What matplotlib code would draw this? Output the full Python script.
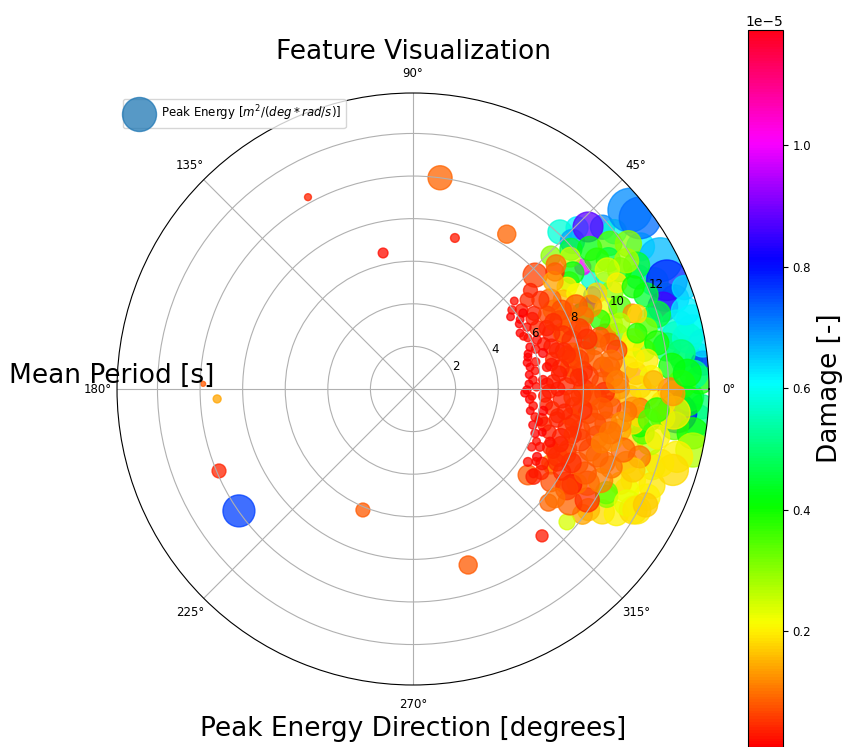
import numpy as np
import matplotlib.pyplot as plt
import matplotlib as mpl

# peak energy direction [deg]
direction = [
    # outliers
    82.7, 74.5, 102.4, 118.7, 178.6, 182.9, 202.9, 215.0,
    247.5, 287.4, 311.3, 58.8,
    # blue / cyan / purple
    44.5, 40.5, 38.0, 32.0, 24.0, 20.0, 11.5, 12.0,
    6.5, 19.0, 26.5, -3.5,
    46.9, 42.8, 39.5, 37.0, 27.6, 23.2, 18.2, 13.2,
    13.8, 6.0, 5.1, 9.0, 9.4, 16.2, -6.2, -5.2,
    -1.7, 1.8, 10.5, 3.0, 16.0, 20.5, 29.5, 31.6,
    27.6, 25.9, 42.8, 35.7, 14.6,
    # green / yellow
    44.0, 41.5, 38.5, 36.5, 33.5, 34.0, 29.0, 30.0,
    26.0, 22.0, 22.5, 34.5, 17.0, 14.5, 7.5, 5.0,
    1.0, -2.5, -8.0, -9.0, 18.0, 15.0, 11.0, 9.5,
    4.0, 3.0, -2.0, -1.5, -6.5, -13.0, -19.0, -18.0,
    -22.0, -33.0, -34.5, -31.5, -36.5, 16.0,
    40.0, 35.0, 36.0, 31.0, 31.5, 27.6, 27.5, 24.9,
    21.6, 19.0, 18.5, 33.5, 30.7, 24.0, 26.3, 12.6,
    17.7, 14.0, 10.7, 7.0, 5.9, 0.5, -0.2, -5.2,
    -3.2, -12.3, -14.4, -17.3, -16.7, -12.8, -16.7, -10.8,
    -9.5, -7.0, -8.8, -4.8, -4.9, -22.5, -24.8, -28.8,
    -25.3, -24.4, -29.0, -20.2, 2.0, -28.2, -28.0, -28.4,
    -26.5, -40.8, -1.0, 8.0, 3.3, -4.7, -7.5, -2.3,
    -11.2, -11.1, 20.5, 12.7, 8.0, 29.4, 30.3, 20.3,
    # orange
    43.0, 39.5, 33.0, 19.0, 15.5, 13.1, 10.8, 6.6,
    6.4, 3.4, 1.8, -6.0, -5.2, -14.6, -13.8, -16.2,
    -24.3, -31.4, -36.0, -32.5, -28.4, -30.0, -28.4, -36.8,
    -31.0, -29.5, 25.0, 22.0, 17.0, 12.0, 9.0, 4.0,
    0.0, -3.0, -8.0, -10.0, -19.0, -21.0, -9.0, 0.0,
    -1.0, -23.0, -34.0, -40.0,
    25.0, 37.5, 41.0, -14.5, -21.5, -26.0, 27.0, 23.0,
    20.0, 14.0, 8.0, 2.0, -2.0, -6.0, -11.0, -12.5,
    -17.0, -20.0, -26.0, -33.0, -37.5, 6.0, 11.0, -7.0,
    -14.0, -25.0, -16.0,
    # red, medium
    38.0, 32.0, 26.0, 22.0, 17.0, 12.0, 8.0, 3.0,
    -1.0, -4.0, -8.0, -12.0, -15.0, -18.0, -23.0, -27.0,
    -33.0, -36.0, 35.0, 29.0, 20.0, 14.0, 5.0, 1.0,
    -6.0, -10.0, -16.0, -21.0, -25.0, -29.0, 10.0, -2.0,
    28.0, 16.0,
    40.0, 36.0, 30.5, 24.5, 19.0, 15.0, 10.0, 6.0,
    0.0, -3.0, -6.5, -10.5, -13.5, -17.5, -20.5, -24.0,
    -30.0, -3.0, 4.0, 12.5, 25.5, -12.0, -8.5, 2.0,
    # red, small dots on the inner edge
    38.6, 34.6, 27.6, 28.5, 19.7, 15.5, 10.6, 4.3,
    -0.5, 4.0, 21.6, 15.5, 9.3, -2.0, -12.9, -16.7,
    -24.5, -32.4, -28.7, -21.2, 41.0, 36.5, 24.0, 31.5,
    7.0, 1.0, -5.0, -8.0, -20.0, -9.5, -26.0, 12.5,
    18.0,
    33.0, 25.5, 17.0, 13.0, 8.5, 2.5, -3.5, -10.5,
    -14.5, -18.5, -23.0, -30.5, -35.0,
]

# mean period [s]
period = [
    10.0, 7.36, 6.54, 10.27, 9.86, 9.21, 9.89, 9.98,
    6.15, 8.66, 9.18, 8.5,
    10.8, 11.7, 12.0, 12.6, 12.4, 12.6, 12.6, 13.4,
    13.5, 13.0, 11.8, 13.6,
    10.1, 10.2, 13.2, 13.35, 13.1, 12.97, 12.35, 12.73,
    13.5, 12.93, 13.67, 13.78, 12.08, 11.6, 13.4, 12.45,
    13.0, 13.48, 13.1, 13.2, 13.3, 13.6, 10.3, 9.76,
    9.5, 9.24, 11.2, 9.82, 8.6,
    9.0, 9.9, 10.6, 11.5, 11.0, 12.2, 12.0, 11.2,
    10.4, 11.8, 9.8, 8.9, 12.0, 11.3, 12.7, 12.2,
    12.6, 12.9, 12.4, 13.3, 9.8, 9.9, 10.4, 11.0,
    10.5, 11.2, 10.2, 11.0, 11.8, 10.6, 10.6, 11.8,
    12.1, 10.6, 10.0, 11.2, 9.9, 9.4,
    9.63, 10.55, 9.28, 11.7, 10.7, 9.74, 10.8, 11.4,
    10.45, 10.9, 11.1, 8.67, 8.2, 8.74, 8.06, 10.6,
    10.2, 10.84, 11.65, 11.07, 10.1, 10.66, 12.07, 12.3,
    11.76, 13.45, 12.8, 12.78, 12.1, 11.4, 11.1, 11.0,
    10.8, 10.7, 10.45, 10.7, 11.5, 11.2, 12.1, 11.8,
    11.1, 10.7, 10.4, 11.0, 11.3, 10.3, 11.4, 11.95,
    12.2, 9.55, 12.2, 10.5, 12.9, 10.36, 11.2, 9.26,
    9.9, 11.7, 7.52, 7.7, 7.44, 7.55, 8.9, 9.36,
    7.84, 8.64, 7.67, 8.45, 9.1, 9.5, 9.75, 8.98,
    9.3, 9.4, 8.92, 10.1, 9.28, 8.93, 8.07, 10.27,
    8.45, 8.47, 9.1, 9.7, 9.3, 8.9, 7.3, 6.74,
    8.7, 7.44, 7.6, 8.0, 7.8, 8.2, 8.6, 8.2,
    8.0, 8.6, 8.3, 9.2, 8.8, 9.6, 9.9, 9.7,
    9.0, 7.8, 7.8, 8.3,
    9.2, 8.3, 8.9, 9.6, 10.0, 9.8, 8.6, 8.7,
    8.3, 8.8, 9.4, 9.6, 8.3, 8.9, 8.7, 9.5,
    8.2, 9.2, 9.0, 8.6, 8.4, 8.0, 7.6, 8.0,
    7.5, 7.5, 9.2,
    6.8, 6.7, 6.5, 7.0, 6.8, 6.7, 7.0, 6.6,
    6.4, 7.0, 6.6, 6.9, 6.4, 7.3, 7.0, 7.6,
    7.2, 7.0, 7.3, 7.2, 7.5, 7.3, 7.5, 7.2,
    7.6, 7.5, 7.8, 7.8, 8.2, 8.0, 7.9, 7.9,
    7.9, 8.5,
    7.2, 6.3, 6.5, 6.9, 6.5, 7.0, 6.6, 6.9,
    6.8, 6.2, 6.3, 6.9, 6.2, 6.7, 7.4, 7.2,
    7.0, 7.5, 7.8, 7.4, 7.3, 7.7, 7.2, 6.3,
    5.95, 6.28, 5.67, 6.09, 5.84, 5.6, 5.59, 5.65,
    5.35, 6.12, 6.26, 6.33, 6.37, 5.26, 5.88, 5.88,
    6.55, 6.39, 6.64, 6.9, 6.3, 5.7, 5.9, 5.85,
    5.5, 5.8, 5.5, 5.7, 6.1, 6.2, 6.2, 5.9,
    6.05,
    6.0, 5.75, 5.65, 5.5, 5.8, 5.45, 5.6, 5.6,
    6.1, 6.4, 6.3, 6.7, 6.9,
]

# peak energy (marker size)
energy = [
    3.0, 0.4, 0.5, 0.25, 0.13, 0.33, 1.0, 5.3,
    1.0, 1.7, 0.75, 1.7,
    2.5, 3.0, 3.0, 4.0, 4.0, 4.0, 4.0, 4.5,
    3.5, 4.0, 3.0, 3.0,
    3.0, 3.0, 10.0, 9.0, 10.0, 8.5, 4.5, 6.0,
    5.0, 5.0, 3.0, 4.0, 4.0, 3.0, 5.0, 8.0,
    4.0, 4.0, 4.5, 4.0, 4.0, 3.0, 1.5, 1.5,
    1.5, 1.0, 4.6, 1.3, 1.2,
    2.0, 2.5, 3.0, 3.0, 3.0, 3.5, 3.5, 3.0,
    2.5, 3.0, 2.5, 2.0, 3.5, 2.5, 4.0, 3.5,
    4.0, 4.5, 4.0, 5.0, 2.5, 2.5, 2.5, 2.5,
    2.5, 2.5, 2.5, 2.5, 3.0, 2.5, 2.5, 3.5,
    3.5, 3.0, 2.5, 3.0, 2.0, 2.0,
    2.0, 3.0, 2.5, 3.0, 3.0, 2.0, 2.0, 2.5,
    2.5, 1.8, 1.8, 2.0, 2.0, 2.5, 2.0, 2.5,
    2.0, 2.0, 3.0, 2.5, 2.5, 2.5, 3.0, 5.5,
    3.0, 6.0, 5.0, 5.0, 4.0, 3.0, 2.5, 2.5,
    2.0, 2.0, 2.5, 2.0, 3.0, 3.0, 3.5, 4.0,
    3.0, 2.5, 2.5, 3.0, 2.0, 2.5, 3.5, 4.0,
    3.0, 1.3, 3.0, 2.0, 4.0, 2.0, 2.5, 2.0,
    2.5, 3.0, 2.0, 2.0, 1.8, 2.0, 2.0, 2.0,
    3.0, 1.7, 2.5, 1.5, 2.0, 2.0, 2.0, 2.0,
    2.0, 2.0, 2.5, 2.0, 2.5, 2.5, 2.0, 3.0,
    2.5, 2.5, 3.0, 3.0, 3.0, 2.0, 1.3, 2.0,
    2.0, 1.0, 2.0, 2.0, 2.0, 2.5, 2.0, 2.5,
    2.0, 2.5, 2.0, 2.5, 2.5, 2.5, 2.0, 2.0,
    2.0, 2.0, 2.0, 1.5,
    2.5, 2.0, 2.0, 2.5, 2.5, 3.0, 2.5, 2.0,
    2.0, 2.5, 2.5, 2.5, 2.5, 2.5, 2.5, 2.5,
    2.5, 2.5, 2.5, 2.5, 2.0, 2.0, 2.0, 2.0,
    2.0, 2.0, 2.0,
    1.0, 1.0, 1.2, 1.5, 1.2, 1.0, 1.5, 1.0,
    1.0, 1.5, 1.0, 1.2, 1.0, 1.5, 1.2, 1.5,
    1.0, 1.2, 1.5, 1.5, 1.5, 1.5, 1.5, 1.5,
    1.5, 1.5, 1.5, 1.5, 2.0, 1.5, 2.0, 2.0,
    2.0, 2.0,
    1.0, 0.8, 0.8, 1.2, 0.8, 1.2, 0.8, 1.2,
    1.0, 0.8, 0.8, 1.0, 0.8, 1.0, 1.2, 1.0,
    0.8, 1.5, 1.5, 1.5, 1.5, 1.5, 1.2, 0.8,
    0.35, 0.35, 0.3, 0.35, 0.35, 0.3, 0.3, 0.35,
    0.35, 0.4, 0.4, 0.4, 0.4, 0.35, 0.35, 0.35,
    0.4, 0.4, 0.4, 0.5, 0.3, 0.3, 0.3, 0.3,
    0.3, 0.35, 0.35, 0.35, 0.35, 0.4, 0.35, 0.35,
    0.35,
    0.3, 0.3, 0.3, 0.3, 0.3, 0.3, 0.3, 0.3,
    0.3, 0.3, 0.3, 0.3, 0.4,
]

# damage [1e-5]
damage = [
    0.09, 0.03, 0.02, 0.04, 0.08, 0.14, 0.04, 0.76,
    0.08, 0.08, 0.03, 0.09,
    0.62, 0.70, 0.58, 0.62, 0.58, 0.57, 0.56, 0.60,
    0.58, 0.66, 0.50, 0.50,
    0.58, 0.68, 0.70, 0.72, 0.66, 0.78, 0.86, 0.57,
    0.60, 0.54, 0.78, 0.63, 0.50, 0.58, 0.52, 0.80,
    0.47, 0.40, 0.58, 0.52, 0.62, 0.64, 0.55, 0.57,
    0.75, 0.78, 0.88, 1.00, 0.54,
    0.30, 0.45, 0.42, 0.35, 0.46, 0.30, 0.45, 0.40,
    0.30, 0.45, 0.22, 0.30, 0.45, 0.30, 0.50, 0.40,
    0.35, 0.42, 0.33, 0.40, 0.25, 0.32, 0.22, 0.30,
    0.14, 0.22, 0.16, 0.21, 0.28, 0.18, 0.15, 0.24,
    0.19, 0.18, 0.16, 0.20, 0.14, 0.12,
    0.25, 0.38, 0.42, 0.28, 0.24, 0.18, 0.20, 0.40,
    0.35, 0.12, 0.18, 0.20, 0.16, 0.38, 0.17, 0.20,
    0.27, 0.38, 0.40, 0.20, 0.17, 0.18, 0.11, 0.20,
    0.19, 0.27, 0.20, 0.18, 0.19, 0.26, 0.10, 0.35,
    0.40, 0.17, 0.19, 0.10, 0.38, 0.20, 0.20, 0.18,
    0.22, 0.18, 0.30, 0.17, 0.15, 0.33, 0.23, 0.19,
    0.17, 0.24, 0.13, 0.20, 0.42, 0.13, 0.35, 0.15,
    0.14, 0.20, 0.20, 0.18, 0.16, 0.14, 0.21, 0.38,
    0.06, 0.05, 0.09, 0.07, 0.08, 0.07, 0.06, 0.07,
    0.07, 0.09, 0.08, 0.10, 0.07, 0.07, 0.06, 0.09,
    0.07, 0.08, 0.09, 0.05, 0.07, 0.10, 0.12, 0.08,
    0.03, 0.11, 0.06, 0.08, 0.05, 0.07, 0.09, 0.06,
    0.05, 0.08, 0.06, 0.09, 0.08, 0.10, 0.12, 0.13,
    0.05, 0.06, 0.07, 0.09,
    0.12, 0.14, 0.10, 0.12, 0.10, 0.11, 0.08, 0.10,
    0.06, 0.09, 0.10, 0.11, 0.07, 0.08, 0.07, 0.10,
    0.06, 0.09, 0.08, 0.06, 0.10, 0.05, 0.06, 0.05,
    0.05, 0.05, 0.11,
    0.045, 0.035, 0.045, 0.035, 0.035, 0.045, 0.035, 0.035,
    0.045, 0.035, 0.045, 0.035, 0.045, 0.035, 0.045, 0.05,
    0.045, 0.035, 0.05, 0.06, 0.05, 0.045, 0.05, 0.045,
    0.05, 0.06, 0.05, 0.06, 0.05, 0.045, 0.06, 0.06,
    0.07, 0.05,
    0.04, 0.03, 0.03, 0.035, 0.03, 0.04, 0.03, 0.035,
    0.03, 0.03, 0.035, 0.04, 0.03, 0.035, 0.04, 0.045,
    0.03, 0.05, 0.045, 0.05, 0.05, 0.05, 0.04, 0.03,
    0.02, 0.01, 0.01, 0.02, 0.01, 0.01, 0.01, 0.02,
    0.01, 0.02, 0.02, 0.01, 0.02, 0.01, 0.02, 0.01,
    0.02, 0.02, 0.01, 0.02, 0.02, 0.01, 0.02, 0.01,
    0.01, 0.02, 0.01, 0.02, 0.01, 0.01, 0.02, 0.02,
    0.02,
    0.01, 0.02, 0.01, 0.01, 0.02, 0.01, 0.02, 0.01,
    0.02, 0.01, 0.02, 0.02, 0.03,
]

fig = plt.figure(figsize=(8.46, 7.47), dpi=100)
ax = fig.add_axes([0.1383, 0.083, 0.6998, 0.7925], projection='polar')

sc = ax.scatter(np.radians(direction), period, s=np.array(energy) * 100,
                c=np.array(damage) * 1e-5, cmap='hsv', vmin=0.009e-5, vmax=1.19e-5,
                alpha=0.75)
ax.set_rlim(0, 13.9)
ax.set_rticks([2, 4, 6, 8, 10, 12])
ax.tick_params(labelsize=8.5)

ax.set_title('Feature Visualization', fontsize=19)
ax.set_xlabel('Peak Energy Direction [degrees]', fontsize=19)
ax.set_ylabel('Mean Period [s]', fontsize=19, rotation=0)

# legend entry
ax.scatter([], [], s=600, c='C0', alpha=0.75, label=r'Peak Energy [$m^2/(deg*rad/s)$]')
ax.legend(loc='upper left', fontsize=8.5)

## colorbar
cax = fig.add_axes([0.884, 0.0, 0.0414, 0.96])
sm = mpl.cm.ScalarMappable(norm=sc.norm, cmap='hsv')
cb = fig.colorbar(sm, cax=cax)
cb.set_label('Damage [-]', fontsize=19)
cb.ax.tick_params(labelsize=8.5)

fig.savefig('out.png', dpi=100)
